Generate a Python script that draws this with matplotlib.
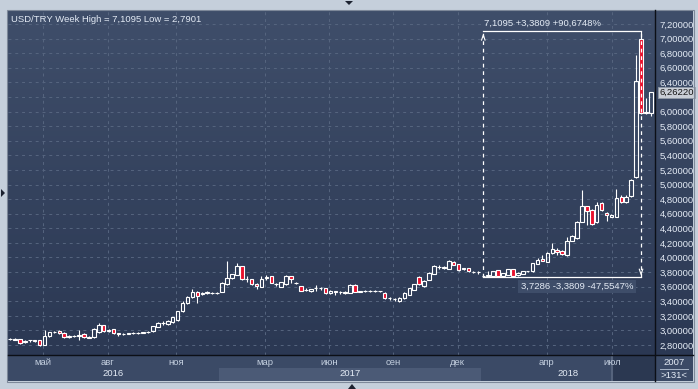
import matplotlib
matplotlib.use('Agg')
import matplotlib.pyplot as plt
import matplotlib.transforms as mtransforms
from matplotlib.lines import Line2D
from matplotlib.patches import Rectangle, Polygon
import numpy as np

plt.rcParams['font.family'] = ['Liberation Sans', 'DejaVu Sans']

# weekly USD/TRY candles (131 bars)
opens = [2.88, 2.875, 2.88, 2.84, 2.865, 2.865, 2.865, 2.80, 2.93, 2.975,
         2.99, 2.965, 2.915, 2.925, 2.93, 2.95, 2.895, 2.905, 2.975, 3.07,
         2.995, 3.015, 2.96, 2.945, 2.955, 2.96, 2.965, 2.97, 2.975, 2.99,
         3.05, 3.095, 3.09, 3.11, 3.14, 3.26, 3.37, 3.455, 3.53, 3.505,
         3.51, 3.515, 3.51, 3.53, 3.635, 3.72, 3.765, 3.88, 3.70, 3.70,
         3.635, 3.60, 3.72, 3.745, 3.635, 3.60, 3.63, 3.745, 3.655, 3.61,
         3.555, 3.535, 3.575, 3.58, 3.575, 3.51, 3.54, 3.52, 3.51, 3.515,
         3.62, 3.53, 3.535, 3.54, 3.535, 3.54, 3.515, 3.44, 3.435, 3.40,
         3.44, 3.49, 3.56, 3.73, 3.61, 3.69, 3.78, 3.875, 3.865, 3.84,
         3.94, 3.91, 3.845, 3.85, 3.80, 3.795, 3.74, 3.75, 3.745, 3.825,
         3.745, 3.76, 3.835, 3.755, 3.78, 3.81, 3.81, 3.915, 3.985, 3.94,
         4.055, 4.10, 4.09, 4.03, 4.225, 4.26, 4.485, 4.70, 4.655, 4.485,
         4.74, 4.61, 4.555, 4.555, 4.835, 4.76, 4.84, 5.10, 6.99, 5.98,
         5.98]
highs = [2.89, 2.89, 2.885, 2.87, 2.875, 2.87, 2.87, 3.00, 2.985, 2.995,
         3.01, 2.975, 2.935, 2.94, 3.00, 2.96, 2.92, 3.03, 3.10, 3.08,
         3.02, 3.02, 2.965, 2.96, 2.97, 2.975, 2.98, 2.985, 2.99, 3.065,
         3.11, 3.13, 3.14, 3.19, 3.27, 3.41, 3.47, 3.57, 3.54, 3.53,
         3.535, 3.53, 3.525, 3.66, 3.95, 3.78, 3.92, 3.885, 3.74, 3.71,
         3.645, 3.745, 3.76, 3.75, 3.65, 3.67, 3.755, 3.75, 3.66, 3.615,
         3.575, 3.57, 3.62, 3.595, 3.58, 3.55, 3.545, 3.535, 3.54, 3.64,
         3.64, 3.545, 3.55, 3.55, 3.555, 3.545, 3.52, 3.455, 3.445, 3.46,
         3.52, 3.585, 3.64, 3.74, 3.69, 3.80, 3.90, 3.90, 3.88, 3.97,
         3.95, 3.915, 3.86, 3.855, 3.815, 3.81, 3.76, 3.815, 3.815, 3.83,
         3.79, 3.845, 3.84, 3.795, 3.815, 3.82, 3.93, 3.99, 4.03, 4.07,
         4.20, 4.13, 4.10, 4.28, 4.31, 4.50, 4.92, 4.71, 4.665, 4.76,
         4.76, 4.62, 4.59, 4.94, 4.85, 4.85, 5.08, 6.77, 7.1095, 6.19,
         6.27]
lows = [2.87, 2.87, 2.82, 2.83, 2.84, 2.84, 2.7901, 2.795, 2.915, 2.96,
        2.945, 2.90, 2.90, 2.91, 2.87, 2.90, 2.89, 2.89, 2.965, 2.98,
        2.98, 2.95, 2.93, 2.935, 2.945, 2.95, 2.955, 2.96, 2.965, 2.985,
        3.04, 3.07, 3.08, 3.10, 3.13, 3.25, 3.36, 3.45, 3.38, 3.49,
        3.495, 3.50, 3.495, 3.52, 3.625, 3.71, 3.755, 3.685, 3.66, 3.62,
        3.57, 3.595, 3.69, 3.65, 3.61, 3.595, 3.625, 3.65, 3.63, 3.54,
        3.54, 3.525, 3.535, 3.56, 3.505, 3.505, 3.49, 3.505, 3.505, 3.51,
        3.525, 3.52, 3.52, 3.525, 3.525, 3.52, 3.435, 3.42, 3.41, 3.385,
        3.435, 3.485, 3.555, 3.62, 3.60, 3.685, 3.77, 3.84, 3.845, 3.835,
        3.89, 3.82, 3.83, 3.805, 3.79, 3.78, 3.7286, 3.74, 3.74, 3.735,
        3.74, 3.755, 3.74, 3.745, 3.775, 3.80, 3.805, 3.905, 3.945, 3.935,
        4.05, 4.04, 4.03, 4.02, 4.22, 4.255, 4.48, 4.45, 4.44, 4.475,
        4.635, 4.50, 4.55, 4.55, 4.75, 4.75, 4.83, 5.09, 5.96, 5.96,
        5.94]
closes = [2.88, 2.885, 2.83, 2.855, 2.87, 2.86, 2.80, 2.93, 2.975, 2.985,
          2.96, 2.91, 2.925, 2.93, 2.935, 2.905, 2.91, 3.015, 3.07, 2.99,
          3.005, 2.96, 2.945, 2.955, 2.96, 2.965, 2.97, 2.975, 2.985, 3.06,
          3.10, 3.10, 3.13, 3.18, 3.26, 3.38, 3.46, 3.53, 3.475, 3.515,
          3.52, 3.515, 3.515, 3.645, 3.72, 3.77, 3.88, 3.70, 3.705, 3.63,
          3.61, 3.70, 3.73, 3.655, 3.63, 3.66, 3.745, 3.71, 3.645, 3.545,
          3.56, 3.565, 3.58, 3.575, 3.51, 3.545, 3.525, 3.52, 3.53, 3.62,
          3.53, 3.535, 3.54, 3.535, 3.54, 3.535, 3.44, 3.44, 3.43, 3.45,
          3.51, 3.575, 3.63, 3.63, 3.68, 3.79, 3.885, 3.87, 3.86, 3.95,
          3.895, 3.825, 3.845, 3.81, 3.80, 3.795, 3.75, 3.755, 3.81, 3.745,
          3.785, 3.835, 3.745, 3.79, 3.81, 3.81, 3.925, 3.97, 3.95, 4.055,
          4.11, 4.07, 4.045, 4.225, 4.30, 4.485, 4.70, 4.63, 4.455, 4.715,
          4.645, 4.58, 4.58, 4.81, 4.76, 4.835, 5.065, 6.42, 5.98, 6.00,
          6.2622]

month_labels = ['май', 'авг', 'ноя', 'мар', 'июн', 'сен', 'дек', 'апр', 'июл']
month_pos = [6.75, 19.8, 33.7, 51.7, 64.75, 77.7, 90.8, 108.9, 122.05]
year_labels = ['2016', '2017', '2018']
year_edges = [-0.41, 42.4, 95.5, 130.83]
price_ticks = np.arange(2.8, 7.21, 0.2)
measure_from = 96  # bar where the measuring tool starts (local low)

W, H = 698, 389
FRAME = '#c5cfdb'
TXT = '#e4ebf5'
RED = '#e8112d'


def box(x0, y0, x1, y1):
    return [x0 / W, 1 - y1 / H, (x1 - x0) / W, (y1 - y0) / H]


def comma(v, nd):
    return f'{v:.{nd}f}'.replace('.', ',')


fig = plt.figure(figsize=(W / 100, H / 100), dpi=100)
fig.patch.set_facecolor(FRAME)

# gradient background behind plot + price scale
bg = fig.add_axes(box(8, 10, 693, 355))
grad = np.linspace(0, 1, 256).reshape(-1, 1)
top = np.array([63, 78, 106]) / 255
bot = np.array([43, 56, 83]) / 255
img = top + (bot - top) * grad[..., None]
bg.imshow(img.reshape(256, 1, 3), aspect='auto', extent=[0, 1, 0, 1])
bg.set_axis_off()

ax = fig.add_axes(box(8, 10, 655, 355))
ax.patch.set_alpha(0)
for s in ax.spines.values():
    s.set_visible(False)
n = len(opens)
x = np.arange(n)
ax.set_xlim(-0.41, 130.83)
ax.set_ylim(2.663, 7.392)

for p in price_ticks:
    ax.axhline(p, color='#56657f', lw=0.7, ls=(0, (3, 4)), zorder=1)
for m in month_pos:
    ax.axvline(m, color='#56657f', lw=0.7, ls=(0, (3, 4)), zorder=1)

o = np.array(opens)
c = np.array(closes)
hi = np.array(highs)
lo = np.array(lows)
body_lo = np.minimum(o, c)
body_hi = np.maximum(o, c)
up = c >= o
ax.vlines(x, body_hi, hi, color='white', lw=0.8, zorder=3)
ax.vlines(x, lo, body_lo, color='white', lw=0.8, zorder=3)
ax.bar(x, np.maximum(body_hi - body_lo, 0.004), bottom=body_lo, width=0.72,
       color=np.where(up, 'none', RED), edgecolor='white', linewidth=0.8, zorder=4)

# price scale (the label under the last-price marker is hidden, as on screen)
last = closes[-1]
ax.yaxis.tick_right()
ax.set_yticks(price_ticks)
ax.set_yticklabels(['' if abs(p - last) < 0.12 else comma(p, 5) for p in price_ticks])
ax.tick_params(axis='y', length=0, pad=3.5, labelsize=6.8, labelcolor=TXT)
ax.set_xticks([])

# title
hh, ll = max(highs), min(lows)
ax.text(0.004, 0.985, f'USD/TRY Week High = {comma(hh, 4)} Low = {comma(ll, 4)}',
        transform=ax.transAxes, ha='left', va='top', fontsize=6.8, color=TXT)

# measurement tool: low -> high
i0 = measure_from
i1 = int(np.argmax(hi))
p0, p1 = lo[i0], hi[i1]
d = p1 - p0
ax.plot([i0, i1], [p1, p1], color='white', lw=0.9, zorder=6)
ax.plot([i0, i1], [p0, p0], color='white', lw=0.9, zorder=6)
ax.plot([i0, i0], [p0, p1], color='white', lw=0.9, ls=(0, (3, 3)), zorder=6)
ax.plot([i1, i1], [p0, p1], color='white', lw=0.9, ls=(0, (3, 3)), zorder=6)
ax.plot([i0 - 0.35, i0, i0 + 0.35], [p1 - 0.13, p1 - 0.06, p1 - 0.13], color='white', lw=0.8, zorder=6)
ax.plot([i1 - 0.35, i1, i1 + 0.35], [p0 + 0.11, p0 + 0.04, p0 + 0.11], color='white', lw=0.8, zorder=6)
ax.text(i0 + 0.2, p1 + 0.1, f'{comma(p1, 4)} +{comma(d, 4)} +{comma(d / p0 * 100, 4)}%',
        ha='left', va='center', fontsize=6.8, color=TXT, zorder=7)
ax.text(i0 + 7.6, p0 - 0.125, f'{comma(p0, 4)} -{comma(d, 4)} -{comma(d / p1 * 100, 4)}%',
        ha='left', va='center', fontsize=6.8, color=TXT, zorder=7,
        bbox=dict(boxstyle='square,pad=0.25', fc='#3e4d69', ec='none'))

# last price marker
tr = mtransforms.blended_transform_factory(ax.transAxes, ax.transData)
ax.text(1.0 + 4 / 647, last, comma(last, 5), transform=tr, ha='left', va='center',
        fontsize=6.8, color='#151515', zorder=8, clip_on=False,
        bbox=dict(boxstyle='square,pad=0.15', fc='#c9ced6', ec='#8f99a6', lw=0.6))

# time scale
bax = fig.add_axes(box(8, 355, 655, 381))
bax.set_facecolor('#3b4a66')
bax.set_xlim(-0.41, 130.83)
bax.set_ylim(0, 1)
bax.set_axis_off()
bax.add_patch(Rectangle((-0.41, 0), 131.3, 1, fc='#3b4a66', ec='none', zorder=0))
for k, lab in enumerate(year_labels):
    if k == 1:
        bax.add_patch(Rectangle((year_edges[k], 0), year_edges[k + 1] - year_edges[k], 0.5,
                                fc='#4b5a76', ec='none', zorder=1))
    bax.text((year_edges[k] + year_edges[k + 1]) / 2, 0.27, lab, ha='center', va='center',
             fontsize=6.8, color=TXT, zorder=3)
bax.add_patch(Rectangle((122.2, 0), 8.63, 1, fc='#2b3851', ec='none', zorder=2))
bax.axvline(122.2, color='#55637c', lw=1.5, zorder=2)
for m, lab in zip(month_pos, month_labels):
    bax.text(m, 0.7, lab, ha='center', va='center', fontsize=6.8, color='#c3cfdf', zorder=3)

cax = fig.add_axes(box(655, 355, 693, 381))
cax.set_facecolor('#3b4a66')
cax.set_xlim(0, 1)
cax.set_ylim(0, 1)
cax.set_xticks([])
cax.set_yticks([])
for s in cax.spines.values():
    s.set_visible(False)
cax.text(0.5, 0.7, '2007', ha='center', va='center', fontsize=6.8, color=TXT)
cax.plot([0.12, 0.88], [0.46, 0.46], color='#a9b6c8', lw=0.7)
cax.text(0.5, 0.23, '>131<', ha='center', va='center', fontsize=6.8, color=TXT)

# separators and frame
fig.add_artist(Line2D([655 / W, 655 / W], [1 - 381 / H, 1 - 10 / H], color='#0c0f16', lw=1))
fig.add_artist(Line2D([8 / W, 693 / W], [1 - 355 / H, 1 - 355 / H], color='#0c0f16', lw=1))
fig.add_artist(Rectangle((7.5 / W, 1 - 381.5 / H), 686 / W, 372 / H, transform=fig.transFigure,
                         fill=False, ec='#7d8899', lw=0.8))
for tri in ([(345, 1), (353, 1), (349, 5)], [(1, 189), (1, 197), (5, 193)], [(348, 389), (356, 389), (352, 384)]):
    fig.add_artist(Polygon([(px / W, 1 - py / H) for px, py in tri], closed=True,
                           transform=fig.transFigure, fc='#1c2230', ec='none'))

fig.savefig('out.png', dpi=100, facecolor=FRAME)
